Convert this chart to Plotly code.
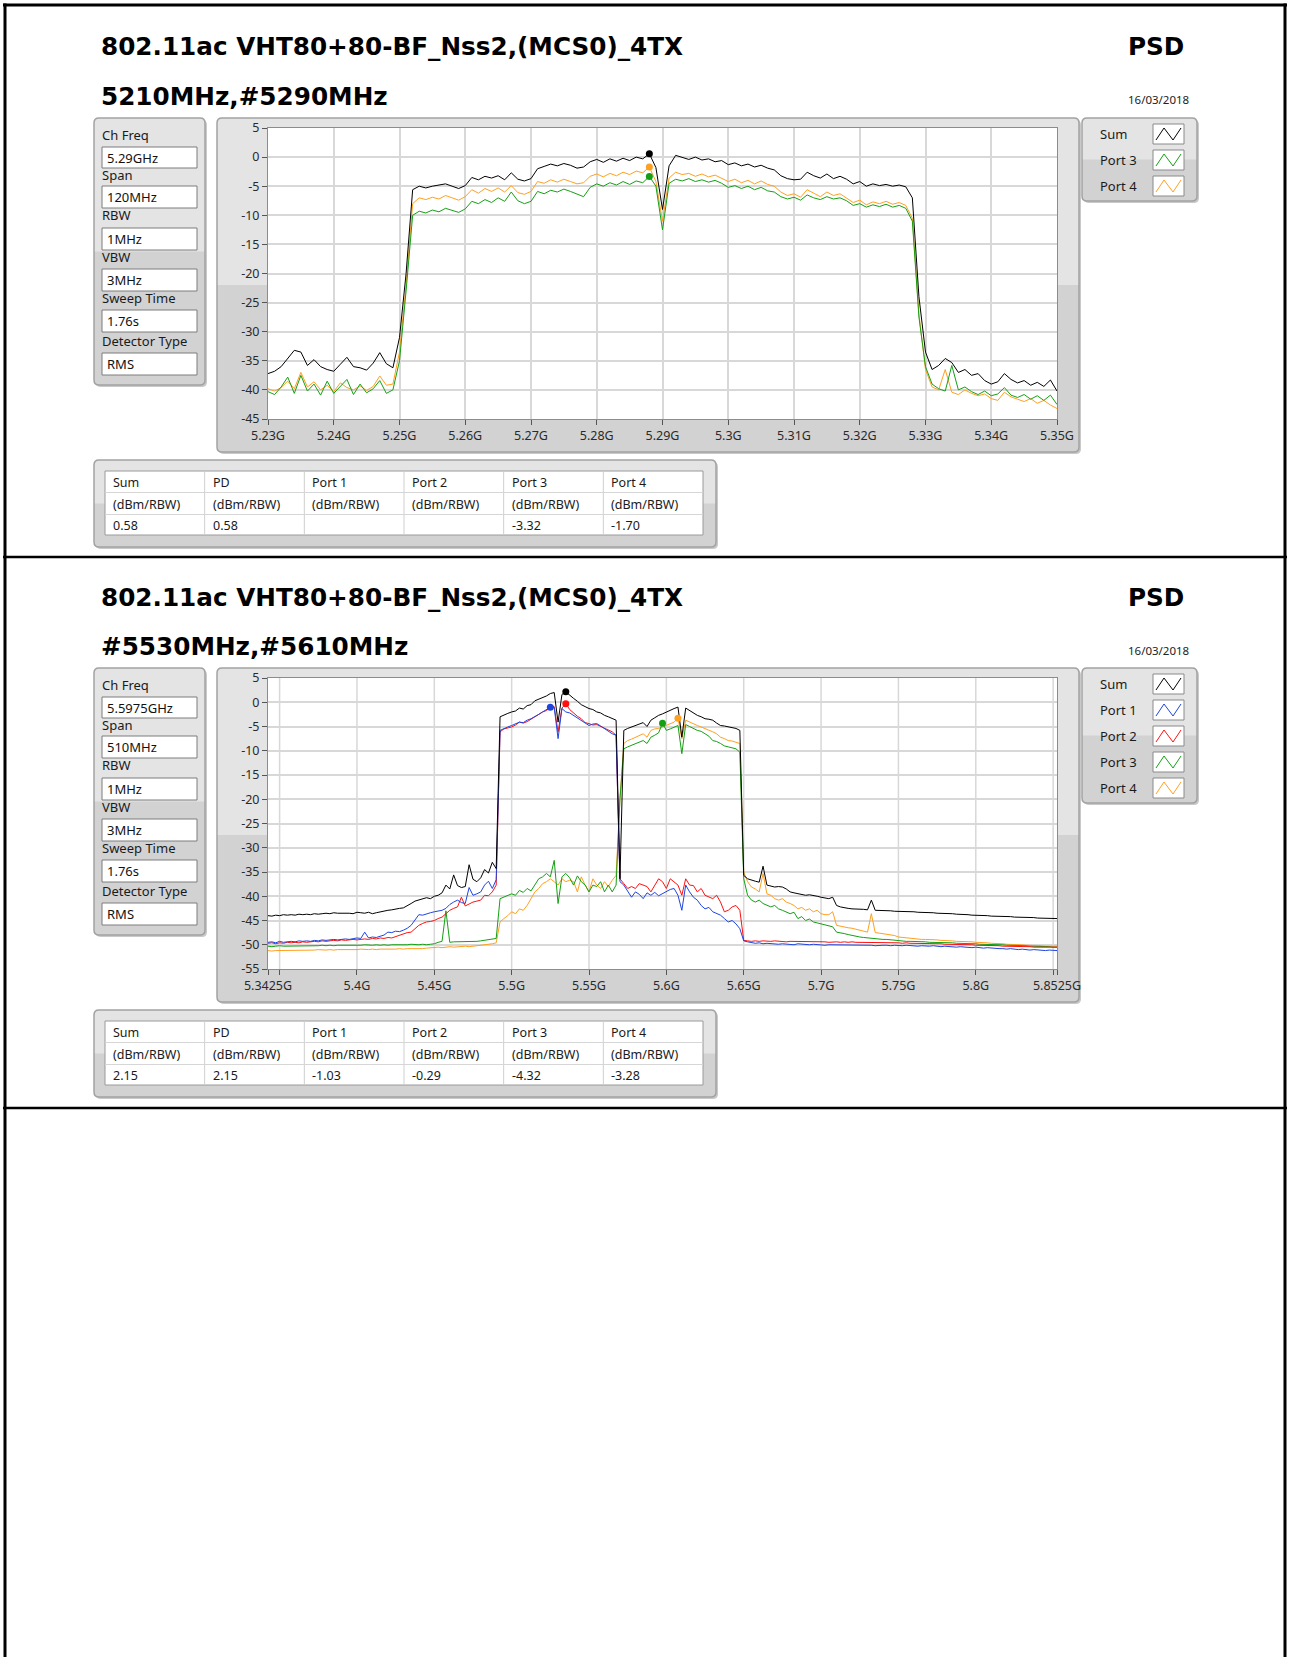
import numpy as np
import plotly.graph_objects as go

W, H = 1290, 1657

# ------------------------------------------------------------------ data
TITLE = "802.11ac VHT80+80-BF_Nss2,(MCS0)_4TX"
SUBTITLES = ["5210MHz,#5290MHz", "#5530MHz,#5610MHz"]
RIGHT_TITLE = "PSD"
DATE = "16/03/2018"

panel_labels = ["Ch Freq", "Span", "RBW", "VBW", "Sweep Time", "Detector Type"]
panel_values_1 = ["5.29GHz", "120MHz", "1MHz", "3MHz", "1.76s", "RMS"]
panel_values_2 = ["5.5975GHz", "510MHz", "1MHz", "3MHz", "1.76s", "RMS"]

table_headers = ["Sum", "PD", "Port 1", "Port 2", "Port 3", "Port 4"]
table_unit = "(dBm/RBW)"
table_values_1 = ["0.58", "0.58", "", "", "-3.32", "-1.70"]
table_values_2 = ["2.15", "2.15", "-1.03", "-0.29", "-4.32", "-3.28"]

# top chart: 1 MHz sampling 5230 .. 5350 MHz
top_freq_mhz = np.arange(5230, 5351, 1)
top_sum = [
    -37.2, -36.8, -36.0, -34.5, -33.2, -33.5, -35.8, -34.8, -36.0, -36.5,
    -36.8, -35.6, -34.4, -36.0, -36.2, -36.6, -35.4, -33.6, -35.5, -36.2,
    -31.0, -20.0, -5.6, -5.0, -5.3, -5.0, -4.8, -4.6, -5.0, -5.4,
    -4.9, -3.5, -3.9, -3.3, -3.6, -3.2, -3.9, -2.7, -3.8, -4.1,
    -3.7, -2.0, -1.6, -1.2, -1.5, -1.1, -1.4, -1.9, -1.7, -0.8,
    -0.4, -0.9, -0.3, -0.7, -0.2, -0.6, 0.0, -0.3, 0.58, -1.8,
    -9.0, -1.5, 0.3, -0.1, -0.4, 0.0, -0.5, -0.3, -0.8, -0.6,
    -1.3, -1.0, -1.5, -1.2, -1.7, -1.4, -1.9, -2.2, -3.2, -3.7,
    -3.9, -3.8, -2.6, -3.2, -3.6, -2.9, -3.7, -3.3, -3.8, -4.6,
    -4.2, -5.0, -4.6, -4.9, -4.7, -5.0, -4.8, -5.1, -7.0, -24.0,
    -33.5, -36.5, -35.8, -34.6, -35.3, -37.0, -36.5, -37.5, -37.2, -38.4,
    -39.0, -38.6, -37.2, -38.2, -38.8, -38.4, -39.2, -38.7, -39.4, -38.3,
    -40.2]
top_port3 = [
    -40.3, -40.8, -39.5, -37.8, -40.6, -37.5, -40.2, -39.0, -40.9, -38.5,
    -40.6, -39.4, -38.2, -40.8, -39.0, -40.5, -39.8, -38.4, -40.6, -40.0,
    -35.0, -23.0, -10.0, -9.3, -9.6, -9.1, -9.4, -8.8, -9.2, -9.5,
    -8.9, -7.6, -8.0, -7.3, -7.8, -7.0, -7.6, -6.0, -7.5, -8.0,
    -7.6, -5.9, -6.3, -5.7, -6.0, -5.5, -5.9, -6.4, -6.8, -5.2,
    -4.6, -5.0, -4.4, -4.8, -4.2, -4.7, -4.1, -4.4, -3.32, -5.0,
    -12.5, -4.5, -3.8, -4.1, -3.7, -4.2, -3.9, -4.3, -4.0, -4.5,
    -5.2, -4.9, -5.4, -5.0, -5.6, -5.2, -5.8, -6.0, -6.8, -7.2,
    -6.9, -7.4, -6.5, -7.0, -7.3, -6.8, -7.2, -7.0, -7.5, -8.3,
    -8.0, -8.6, -8.2, -8.5, -8.1, -8.6, -8.3, -8.8, -11.0, -27.5,
    -36.0, -39.0, -39.8, -40.2, -35.8, -40.0, -39.5, -40.3, -40.8, -40.2,
    -41.0, -40.7, -39.6, -40.9, -41.3, -40.8, -41.6, -41.0, -41.8, -40.9,
    -42.5]
top_port4 = [
    -39.8, -40.2, -39.6, -38.5, -39.8, -37.0, -39.5, -38.6, -40.0, -39.2,
    -40.3, -38.8, -39.6, -40.0, -39.3, -40.1, -39.4, -37.6, -39.2, -39.0,
    -33.5, -22.0, -8.0, -7.0, -7.3, -6.9, -7.2, -6.6, -7.0, -7.4,
    -6.8, -5.6, -6.2, -5.4, -5.9, -5.3, -6.0, -4.9, -6.1, -6.4,
    -5.9, -4.2, -4.5, -3.9, -4.3, -3.8, -4.2, -4.6, -4.4, -3.3,
    -2.9, -3.4, -2.8, -3.2, -2.6, -3.0, -2.4, -2.7, -1.70, -4.2,
    -11.0, -3.6, -2.6, -3.0, -2.8, -3.3, -2.9, -3.4, -3.1, -3.6,
    -4.2, -3.8, -4.4, -4.0, -4.6, -4.1, -4.7, -5.0, -6.0, -6.6,
    -6.3, -6.9, -5.6, -6.2, -6.8, -6.0, -6.6, -6.3, -7.0, -7.8,
    -7.4, -8.2, -7.7, -8.0, -7.6, -8.1, -7.8, -8.3, -10.5, -27.0,
    -36.5, -39.5, -40.0, -36.5, -40.4, -40.8, -40.0, -40.6, -41.0, -40.7,
    -41.5, -41.8, -40.4, -41.2, -41.6, -42.0, -41.5, -42.3, -41.8, -42.6,
    -43.2]
top_marker_freq_mhz = [5288, 5288, 5288]
top_marker_vals = [0.58, -3.32, -1.70]   # Sum, Port 3, Port 4

top_tickvals = [5.23, 5.24, 5.25, 5.26, 5.27, 5.28, 5.29, 5.30, 5.31, 5.32, 5.33, 5.34, 5.35]
top_ticktext = ["5.23G", "5.24G", "5.25G", "5.26G", "5.27G", "5.28G", "5.29G",
                "5.3G", "5.31G", "5.32G", "5.33G", "5.34G", "5.35G"]

# bottom chart: 2.5 MHz sampling 5342.5 .. 5852.5 MHz
bot_freq_mhz = np.arange(5342.5, 5852.6, 2.5)
bot_sum = [
    -44.0, -44.1, -43.9, -44.0, -43.8, -43.9, -43.8, -43.9, -43.7, -43.8,
    -43.7, -43.8, -43.6, -43.7, -43.6, -43.5, -43.6, -43.4, -43.5, -43.5,
    -43.4, -43.5, -43.6, -43.3, -43.4, -43.5, -43.3, -43.6, -43.4, -43.2,
    -43.1, -42.9, -42.8, -42.6, -42.5, -42.4, -42.0, -41.5, -41.0, -40.8,
    -40.6, -40.3, -40.5, -40.0, -39.8, -39.3, -37.7, -38.5, -35.6, -37.8,
    -38.2, -38.0, -33.5, -36.5, -37.0, -36.2, -34.5, -35.2, -33.0, -34.3,
    -3.0, -2.6, -2.3, -2.0, -1.8, -1.2, -1.4, -0.7, -0.5, 0.3,
    0.6, 1.0, 1.3, 1.8, 2.0, -4.1, 1.6, 2.15, 1.4, 0.8,
    0.2, -0.5, -0.9, -1.3, -1.5, -2.0, -2.2, -2.7, -3.0, -3.4,
    -3.7, -36.4, -5.8, -5.4, -5.1, -4.8, -4.4, -4.2, -5.0, -3.7,
    -3.2, -2.7, -2.4, -2.0, -1.6, -1.3, -1.0, -7.2, -1.2, -1.7,
    -2.2, -2.7, -3.0, -3.4, -3.5, -3.7, -4.3, -4.8, -4.9, -5.1,
    -5.2, -5.4, -5.8, -35.7, -36.4, -36.7, -36.9, -37.1, -33.8, -37.7,
    -37.9, -38.1, -38.0, -38.1, -38.5, -39.1, -39.3, -39.5, -39.6, -39.8,
    -39.7, -39.8, -40.0, -40.2, -40.3, -40.5, -40.2, -41.9, -42.2, -42.4,
    -42.5, -42.6, -42.6, -42.7, -42.7, -42.8, -40.8, -42.9, -42.9, -42.9,
    -43.0, -43.0, -43.1, -43.1, -43.1, -43.2, -43.2, -43.2, -43.3, -43.3,
    -43.3, -43.4, -43.4, -43.5, -43.5, -43.6, -43.6, -43.6, -43.7, -43.7,
    -43.8, -43.8, -43.9, -43.9, -44.0, -44.0, -44.0, -44.1, -44.1, -44.1,
    -44.2, -44.2, -44.2, -44.3, -44.3, -44.3, -44.4, -44.4, -44.4, -44.5,
    -44.5, -44.5, -44.6, -44.5, -44.6]
bot_port1 = [
    -49.5, -49.4, -49.6, -49.3, -49.5, -49.4, -49.3, -49.4, -49.2, -49.3,
    -49.2, -49.3, -49.1, -49.2, -49.0, -49.1, -49.0, -48.9, -49.0, -48.9,
    -48.8, -48.9, -48.7, -48.6, -48.7, -47.4, -48.6, -48.4, -48.5, -48.2,
    -48.0, -47.4, -47.5, -47.2, -47.3, -47.0, -46.6, -46.0, -45.0, -43.8,
    -43.9, -43.6, -43.4, -43.2, -43.0, -42.9, -42.5, -41.7, -41.2, -40.8,
    -41.3, -41.5, -38.2, -39.8, -39.5, -39.1, -37.7, -36.9, -38.4, -36.6,
    -5.8, -5.4, -5.1, -4.8, -4.4, -4.1, -4.2, -3.7, -3.4, -3.0,
    -2.5, -2.0, -1.6, -1.03, -1.1, -7.5, -1.3, -2.0, -2.2, -2.7,
    -3.2, -3.7, -4.3, -4.8, -4.5, -4.4, -4.9, -5.4, -6.0, -6.5,
    -6.8, -37.0, -37.7, -39.1, -40.2, -39.1, -39.6, -40.5, -39.3, -39.8,
    -39.2, -39.9, -39.5, -39.1, -38.6, -38.4, -39.8, -42.9, -37.7, -39.1,
    -40.2, -40.8, -41.9, -42.6, -42.3, -43.2, -43.6, -43.9, -44.6, -45.3,
    -45.0, -45.7, -46.7, -49.2, -49.4, -49.6, -49.7, -49.6, -49.8, -49.7,
    -49.8, -49.8, -49.9, -49.8, -49.9, -49.9, -50.0, -49.8, -49.9, -50.0,
    -50.0, -49.9, -50.0, -50.0, -50.1, -50.0, -50.0, -50.1, -50.0, -50.1,
    -50.1, -50.0, -50.1, -50.1, -50.0, -50.1, -50.1, -50.2, -50.1, -50.1,
    -50.1, -50.2, -50.1, -50.2, -50.2, -50.1, -50.2, -50.2, -50.3, -50.2,
    -50.3, -50.3, -50.2, -50.3, -50.4, -50.3, -50.4, -50.4, -50.5, -50.4,
    -50.5, -50.5, -50.6, -50.5, -50.6, -50.7, -50.6, -50.7, -50.7, -50.8,
    -50.8, -50.9, -50.8, -50.9, -51.0, -50.9, -51.0, -51.1, -51.0, -51.1,
    -51.1, -51.2, -51.1, -51.2, -51.2]
bot_port2 = [
    -49.7, -49.6, -49.8, -49.6, -49.7, -49.5, -49.6, -49.5, -49.6, -49.4,
    -49.5, -49.4, -49.3, -49.4, -49.2, -49.3, -49.2, -49.1, -49.2, -49.0,
    -49.1, -49.0, -48.9, -49.0, -48.9, -48.8, -48.9, -48.7, -48.8, -48.6,
    -48.7, -48.5, -48.6, -48.3, -48.0, -47.7, -47.5, -47.4, -46.6, -46.0,
    -45.6, -45.3, -45.2, -45.0, -44.6, -44.3, -43.6, -42.9, -42.5, -42.2,
    -40.2, -42.0, -41.6, -41.2, -41.0, -40.8, -39.8, -39.9, -39.1, -37.7,
    -6.1, -5.5, -5.3, -5.1, -4.7, -4.1, -4.3, -4.0, -3.5, -3.0,
    -2.6, -2.0, -1.7, -1.0, -0.9, -6.1, -1.2, -0.29, -1.5, -2.3,
    -2.9, -3.4, -4.2, -4.4, -4.7, -4.6, -5.0, -5.4, -5.8, -6.1,
    -6.8, -36.4, -37.4, -38.4, -38.0, -38.4, -37.4, -37.7, -38.0, -39.1,
    -37.7, -36.4, -37.0, -38.4, -36.4, -37.0, -37.7, -39.8, -36.4, -37.7,
    -37.8, -39.1, -38.4, -39.8, -40.1, -40.5, -39.8, -41.2, -43.2, -42.9,
    -42.2, -41.9, -42.9, -49.1, -49.2, -49.3, -49.2, -49.3, -49.2, -49.3,
    -49.3, -49.2, -49.3, -49.3, -49.4, -49.3, -49.3, -49.4, -49.3, -49.4,
    -49.4, -49.3, -49.4, -49.4, -49.4, -49.5, -49.4, -49.4, -49.5, -49.4,
    -49.5, -49.4, -49.5, -49.5, -49.5, -49.5, -49.6, -49.5, -49.5, -49.6,
    -49.6, -49.6, -49.6, -49.6, -49.7, -49.6, -49.7, -49.7, -49.7, -49.7,
    -49.7, -49.8, -49.8, -49.8, -49.8, -49.9, -49.9, -49.9, -49.9, -50.0,
    -50.0, -50.0, -50.0, -50.1, -50.1, -50.1, -50.2, -50.2, -50.2, -50.2,
    -50.3, -50.3, -50.3, -50.3, -50.4, -50.4, -50.4, -50.4, -50.5, -50.5,
    -50.5, -50.5, -50.5, -50.6, -50.5]
bot_port3 = [
    -50.3, -50.4, -50.3, -50.2, -50.3, -50.3, -50.2, -50.3, -50.2, -50.2,
    -50.2, -50.3, -50.2, -50.2, -50.1, -50.2, -50.1, -50.2, -50.1, -50.1,
    -50.1, -50.1, -50.2, -50.1, -50.1, -50.0, -50.1, -50.1, -50.0, -50.1,
    -50.0, -50.1, -50.0, -50.0, -50.0, -50.1, -50.0, -49.9, -50.0, -50.0,
    -49.9, -50.0, -49.9, -49.8, -49.5, -49.3, -43.0, -49.5, -49.4, -49.4,
    -49.4, -49.3, -49.4, -49.3, -49.3, -49.2, -49.1, -49.0, -48.8, -48.7,
    -40.5, -40.2, -39.8, -39.5, -39.8, -38.8, -39.2, -38.4, -38.9, -37.7,
    -36.4, -36.0, -35.3, -36.0, -32.6, -41.5, -36.0, -35.3, -36.2, -37.7,
    -35.8, -37.0, -37.7, -39.1, -37.7, -38.0, -37.0, -39.1, -37.7, -39.1,
    -37.7, -19.9, -9.6, -9.2, -8.9, -8.5, -8.2, -7.9, -8.5, -7.2,
    -6.8, -6.3, -4.32, -5.8, -5.5, -5.1, -4.8, -10.6, -4.6, -5.0,
    -5.4, -5.8, -6.0, -6.5, -7.0, -7.9, -8.1, -8.5, -9.0, -9.2,
    -9.4, -9.6, -10.3, -36.4, -39.8, -40.8, -41.2, -40.8, -41.5, -41.9,
    -42.2, -41.9, -42.6, -42.9, -43.2, -43.6, -43.3, -44.6, -44.2, -45.0,
    -44.7, -45.3, -45.5, -45.7, -45.8, -46.0, -46.3, -47.4, -47.5, -47.7,
    -47.9, -48.1, -48.2, -48.4, -48.5, -48.6, -48.7, -48.7, -48.8, -48.9,
    -48.9, -49.0, -49.1, -49.2, -49.2, -49.3, -49.3, -49.3, -49.4, -49.4,
    -49.4, -49.5, -49.5, -49.5, -49.6, -49.6, -49.6, -49.6, -49.7, -49.7,
    -49.7, -49.8, -49.8, -49.8, -49.9, -49.9, -49.9, -50.0, -50.0, -50.0,
    -50.0, -50.1, -50.1, -50.1, -50.2, -50.2, -50.2, -50.3, -50.3, -50.3,
    -50.4, -50.4, -50.4, -50.5, -50.5]
bot_port4 = [
    -51.2, -51.3, -51.2, -51.2, -51.1, -51.2, -51.2, -51.1, -51.2, -51.1,
    -51.1, -51.2, -51.1, -51.0, -51.1, -51.1, -51.0, -51.1, -51.0, -51.0,
    -51.0, -51.1, -51.0, -51.0, -50.9, -51.0, -51.0, -50.9, -51.0, -50.9,
    -50.9, -51.0, -50.9, -50.9, -50.8, -50.9, -50.8, -50.8, -50.9, -50.8,
    -50.8, -50.7, -50.6, -50.6, -50.5, -50.6, -50.5, -50.4, -50.5, -50.4,
    -50.4, -50.3, -50.4, -50.3, -50.2, -50.1, -50.0, -50.0, -49.8, -49.6,
    -45.3, -44.6, -44.0, -43.2, -43.6, -42.6, -42.9, -41.9, -40.5, -39.1,
    -38.4, -37.4, -37.0, -36.4, -37.0, -37.7, -36.4, -37.0, -36.7, -37.0,
    -39.1, -36.0, -37.7, -39.1, -36.4, -37.7, -38.4, -37.0, -38.0, -36.7,
    -35.7, -19.9, -8.5, -7.9, -7.6, -7.2, -6.9, -6.5, -7.2, -5.8,
    -5.5, -5.4, -5.1, -4.8, -4.4, -4.1, -3.28, -7.5, -3.7, -4.1,
    -4.4, -4.8, -5.1, -5.4, -5.8, -6.1, -6.5, -7.2, -7.5, -7.9,
    -8.0, -8.2, -8.5, -35.0, -37.0, -38.1, -38.5, -39.1, -35.3, -39.5,
    -39.8, -40.5, -40.8, -40.5, -41.2, -41.5, -41.9, -42.6, -42.3, -42.9,
    -42.6, -43.2, -42.9, -43.6, -43.8, -43.8, -43.2, -46.0, -46.2, -46.3,
    -46.5, -46.6, -46.8, -47.0, -47.2, -47.4, -43.6, -47.5, -47.6, -47.7,
    -47.8, -48.0, -48.1, -48.4, -48.5, -48.6, -48.7, -48.7, -48.8, -48.9,
    -48.9, -48.9, -49.0, -49.0, -49.1, -49.1, -49.2, -49.2, -49.3, -49.3,
    -49.3, -49.4, -49.4, -49.5, -49.5, -49.6, -49.6, -49.7, -49.7, -49.8,
    -49.8, -49.9, -49.9, -50.0, -50.0, -50.0, -50.1, -50.1, -50.2, -50.2,
    -50.2, -50.3, -50.3, -50.3, -50.3]
bot_marker_freq_mhz = [5535, 5525, 5535, 5597.5, 5607.5]
bot_marker_vals = [2.15, -1.03, -0.29, -4.32, -3.28]   # Sum, Port1..Port4

bot_tickvals = [5.3425, 5.35, 5.40, 5.45, 5.50, 5.55, 5.60, 5.65, 5.70, 5.75, 5.80, 5.85, 5.8525]
bot_ticktext = ["5.3425G", "", "5.4G", "5.45G", "5.5G", "5.55G", "5.6G", "5.65G",
                "5.7G", "5.75G", "5.8G", "", "5.8525G"]
bot_gridvals = [5.35, 5.40, 5.45, 5.50, 5.55, 5.60, 5.65, 5.70, 5.75, 5.80, 5.85]

# ------------------------------------------------------------------ styling
C_SUM, C_P1, C_P2, C_P3, C_P4 = "#000000", "#1f45e0", "#ff1010", "#14a014", "#ffa020"
LIGHT, DARK, EDGE = "#e4e4e4", "#d2d2d2", "#a2a2a2"
SMALL_FONT = "Noto Sans"


def X(p):
    return p / W


def Y(p):
    return 1 - p / H


def rr_path(x0, y0, x1, y1, rt, rb):
    return (f"M {X(x0 + rt)} {Y(y0)} L {X(x1 - rt)} {Y(y0)} "
            f"Q {X(x1)} {Y(y0)} {X(x1)} {Y(y0 + rt)} L {X(x1)} {Y(y1 - rb)} "
            f"Q {X(x1)} {Y(y1)} {X(x1 - rb)} {Y(y1)} L {X(x0 + rb)} {Y(y1)} "
            f"Q {X(x0)} {Y(y1)} {X(x0)} {Y(y1 - rb)} L {X(x0)} {Y(y0 + rt)} "
            f"Q {X(x0)} {Y(y0)} {X(x0 + rt)} {Y(y0)} Z")


shapes = []
annotations = []


def rect(x0, y0, x1, y1, fill, line=None, lw=1):
    shapes.append(dict(type="rect", xref="paper", yref="paper", x0=X(x0), x1=X(x1),
                       y0=Y(y1), y1=Y(y0), fillcolor=fill,
                       line=dict(color=line or fill, width=lw if line else 0), layer="below"))


def hline(x0, x1, y, color, w):
    shapes.append(dict(type="line", xref="paper", yref="paper", x0=X(x0), x1=X(x1),
                       y0=Y(y), y1=Y(y), line=dict(color=color, width=w), layer="above"))


def vline(x, y0, y1, color, w, layer="above"):
    shapes.append(dict(type="line", xref="paper", yref="paper", x0=X(x), x1=X(x),
                       y0=Y(y0), y1=Y(y1), line=dict(color=color, width=w), layer=layer))


def panel(x0, y0, x1, y1, r=5):
    mid = (y0 + y1) / 2
    shapes.append(dict(type="path", xref="paper", yref="paper", path=rr_path(x0 + 2, y0 + 2, x1 + 2, y1 + 2, r, r),
                       fillcolor="#c9c9c9", line=dict(width=0), layer="below"))
    shapes.append(dict(type="path", xref="paper", yref="paper", path=rr_path(x0, y0, x1, y1, r, r),
                       fillcolor=LIGHT, line=dict(width=0), layer="below"))
    shapes.append(dict(type="path", xref="paper", yref="paper", path=rr_path(x0, mid, x1, y1, 0, r),
                       fillcolor=DARK, line=dict(width=0), layer="below"))
    shapes.append(dict(type="path", xref="paper", yref="paper", path=rr_path(x0, y0, x1, y1, r, r),
                       fillcolor="rgba(0,0,0,0)", line=dict(color=EDGE, width=1.5), layer="below"))


def text(x, y, s, size, family=SMALL_FONT, anchor="left", color="#1a1a1a"):
    annotations.append(dict(x=X(x), y=Y(y), xref="paper", yref="paper", text=s, showarrow=False,
                            xanchor=anchor, yanchor="middle",
                            font=dict(family=family, size=size, color=color)))


def section(dy, subtitle, pvals, legend_items, tvals):
    # titles
    text(99, 47 + dy, f"<b>{TITLE}</b>", 24.7, "DejaVu Sans", color="#000")
    text(99, 96 + dy, f"<b>{subtitle}</b>", 24.7, "DejaVu Sans", color="#000")
    text(1186, 47 + dy, f"<b>{RIGHT_TITLE}</b>", 24.7, "DejaVu Sans", "right", "#000")
    text(1191, 100 + dy, DATE, 11.5, anchor="right", color="#222")
    # settings panel
    panel(94, 118 + dy, 205, 385 + dy)
    label_y = [135, 175, 215, 257, 298, 341]
    box_y = [(147, 168), (186, 208), (228, 250), (269, 291), (310, 332), (353, 375)]
    for lab, val, ly, (b0, b1) in zip(panel_labels, pvals, label_y, box_y):
        text(100, ly + dy, lab, 13)
        rect(102, b0 + dy, 197, b1 + dy, "#ffffff", "#7d7d7d", 1)
        text(105, (b0 + b1) / 2 + dy, val, 13, color="#111")
    # chart frame
    panel(217, 118 + dy, 1079, 452 + dy)
    rect(268, 128 + dy, 1057, 419 + dy, "#ffffff")
    # legend
    n = len(legend_items)
    top = 118 + dy
    bottom = top + 26 * n + 5
    panel(1082, top, 1197, bottom)
    for i, (name, col) in enumerate(legend_items):
        cy = 134 + dy + 26 * i
        text(1098, cy, name, 13)
        rect(1153, cy - 10, 1184, cy + 10, "#ffffff", "#8a8a8a", 1)
        pts = [(1156, cy + 6), (1164, cy - 6), (1173, cy + 6), (1181, cy - 6)]
        path = "M " + " L ".join(f"{X(a)} {Y(b)}" for a, b in pts)
        shapes.append(dict(type="path", xref="paper", yref="paper", path=path,
                           line=dict(color=col, width=1), layer="above"))
    # table
    panel(94, 460 + dy, 716, 547 + dy)
    rect(105, 471 + dy, 703, 535 + dy, "#ffffff", "#9a9a9a", 1)
    cols = [105 + i * (703 - 105) / 6 for i in range(7)]
    for c in cols[1:-1]:
        vline(c, 471 + dy, 535 + dy, "#cfcfcf", 1)
    hline(105, 703, 492.5 + dy, "#d6d6d6", 1)
    hline(105, 703, 514.5 + dy, "#d6d6d6", 1)
    for i in range(6):
        text(cols[i] + 6, 482 + dy, table_headers[i], 12.5)
        text(cols[i] + 6, 504 + dy, table_unit, 12.5)
        text(cols[i] + 6, 525 + dy, tvals[i], 12.5)


section(0, SUBTITLES[0], panel_values_1, [("Sum", C_SUM), ("Port 3", C_P3), ("Port 4", C_P4)],
        table_values_1)
section(550, SUBTITLES[1], panel_values_2,
        [("Sum", C_SUM), ("Port 1", C_P1), ("Port 2", C_P2), ("Port 3", C_P3), ("Port 4", C_P4)],
        table_values_2)

# page borders
hline(3, 1287, 5, "#000", 3)
vline(5, 3.5, 1657, "#000", 3)
vline(1285, 3.5, 1657, "#000", 3)
hline(3, 1287, 557, "#000", 2.5)
hline(3, 1287, 1108, "#000", 2.5)

# ------------------------------------------------------------------ traces
fig = go.Figure()


def line(xa, ya, fx, vals, col):
    fig.add_trace(go.Scatter(x=np.asarray(fx) / 1000.0, y=vals, mode="lines", xaxis=xa, yaxis=ya,
                             line=dict(color=col, width=1), hoverinfo="skip", showlegend=False))


def dots(xa, ya, fx, vals, cols):
    fig.add_trace(go.Scatter(x=np.asarray(fx) / 1000.0, y=vals, mode="markers", xaxis=xa, yaxis=ya,
                             marker=dict(color=cols, size=7), hoverinfo="skip", showlegend=False))


line("x", "y", top_freq_mhz, top_port4, C_P4)
line("x", "y", top_freq_mhz, top_port3, C_P3)
line("x", "y", top_freq_mhz, top_sum, C_SUM)
dots("x", "y", top_marker_freq_mhz, top_marker_vals, [C_SUM, C_P3, C_P4])

line("x2", "y2", bot_freq_mhz, bot_port4, C_P4)
line("x2", "y2", bot_freq_mhz, bot_port3, C_P3)
line("x2", "y2", bot_freq_mhz, bot_port2, C_P2)
line("x2", "y2", bot_freq_mhz, bot_port1, C_P1)
line("x2", "y2", bot_freq_mhz, bot_sum, C_SUM)
dots("x2", "y2", bot_marker_freq_mhz, bot_marker_vals, [C_SUM, C_P1, C_P2, C_P3, C_P4])

# vertical grid for the bottom chart at the 50 MHz lines (not at the span ends)
for gv in bot_gridvals:
    shapes.append(dict(type="line", xref="x2", yref="y2 domain", x0=gv, x1=gv, y0=0, y1=1,
                       line=dict(color="#d8d8d8", width=1.5), layer="below"))

axis_common = dict(showgrid=True, gridcolor="#d8d8d8", gridwidth=1.5, zeroline=False,
                   showline=True, linecolor="#8c8c8c", linewidth=1, mirror=True,
                   ticks="outside", ticklen=5, tickcolor="#555", tickwidth=1,
                   tickfont=dict(family=SMALL_FONT, size=12.5, color="#2a2a2a"),
                   automargin=False, fixedrange=True)

fig.update_layout(
    width=W, height=H, margin=dict(l=0, r=0, t=0, b=0),
    paper_bgcolor="#ffffff", plot_bgcolor="#ffffff", template="none",
    showlegend=False, shapes=shapes, annotations=annotations,
    xaxis=dict(domain=[X(268), X(1057)], range=[5.23, 5.35], anchor="y",
               tickmode="array", tickvals=top_tickvals, ticktext=top_ticktext, **axis_common),
    yaxis=dict(domain=[Y(419), Y(128)], range=[-45, 5], anchor="x",
               tickmode="array", tickvals=list(range(-45, 6, 5)),
               ticktext=[str(v) for v in range(-45, 6, 5)], **axis_common),
    xaxis2=dict(domain=[X(268), X(1057)], range=[5.3425, 5.8525], anchor="y2",
                tickmode="array", tickvals=bot_tickvals, ticktext=bot_ticktext,
                **{**axis_common, "showgrid": False}),
    yaxis2=dict(domain=[Y(969), Y(678)], range=[-55, 5], anchor="x2",
                tickmode="array", tickvals=list(range(-55, 6, 5)),
                ticktext=[str(v) for v in range(-55, 6, 5)], **axis_common),
)

fig.write_html("out.html", config={"displayModeBar": False},
               post_script="document.body.style.margin='0';")
